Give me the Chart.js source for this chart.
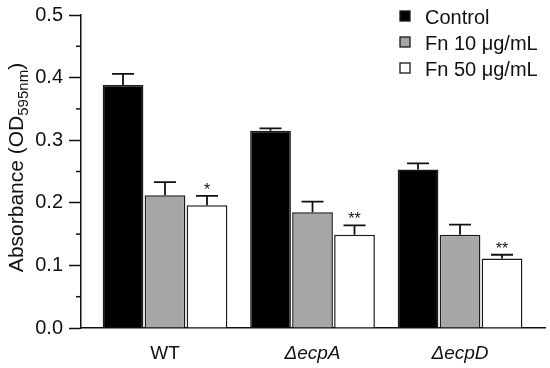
<!DOCTYPE html>
<html>
<head>
<meta charset="utf-8">
<script src="https://cdn.jsdelivr.net/npm/chart.js@4/dist/chart.umd.min.js"></script>
<style>
  html, body { margin: 0; padding: 0; background: #fff; }
</style>
</head>
<body>
<canvas id="chart" width="550" height="368"></canvas>
<script>
const groups = ["WT", "\u0394ecpA", "\u0394ecpD"];
const groupPos = [1, 2, 3];
const seriesNames = ["Control", "Fn 10 \u03bcg/mL", "Fn 50 \u03bcg/mL"];
const control = [0.388, 0.315, 0.253];
const fn10 = [0.212, 0.185, 0.149];
const fn50 = [0.196, 0.149, 0.111];
const controlErr = [0.018, 0.004, 0.010];
const fn10Err = [0.021, 0.017, 0.016];
const fn50Err = [0.015, 0.015, 0.006];
const fn50Stars = ["*", "**", "**"];
const yMinorTicks = [0.05, 0.15, 0.25, 0.35, 0.45];

const FONT = "'Liberation Sans', Arial, sans-serif";
const INK = "#111";

function makeSet(label, values, errs, fill, stars) {
  return {
    label,
    data: values.map((v, i) => ({ x: groupPos[i], y: v })),
    errors: errs,
    stars: stars || [],
    backgroundColor: fill,
    borderColor: "#1a1a1a",
    borderWidth: 1.5,
    categoryPercentage: 0.854,
    barPercentage: 0.97
  };
}

// error bars (upper only) + significance stars
const errorBars = {
  id: "errorBars",
  afterDatasetsDraw(chart) {
    const { ctx, scales: { y } } = chart;
    ctx.save();
    ctx.strokeStyle = INK;
    ctx.lineWidth = 1.8;
    chart.data.datasets.forEach((ds, di) => {
      chart.getDatasetMeta(di).data.forEach((bar, i) => {
        const top = y.getPixelForValue(ds.data[i].y + ds.errors[i]);
        ctx.beginPath();
        ctx.moveTo(bar.x, bar.y);
        ctx.lineTo(bar.x, top);
        ctx.moveTo(bar.x - 11, top);
        ctx.lineTo(bar.x + 11, top);
        ctx.stroke();
        if (ds.stars[i]) {
          ctx.fillStyle = INK;
          ctx.font = "16px " + FONT;
          ctx.textAlign = "center";
          ctx.textBaseline = "alphabetic";
          ctx.fillText(ds.stars[i], bar.x, top - 1);
        }
      });
    });
    ctx.restore();
  }
};

// minor ticks, y title with subscript, legend
const extras = {
  id: "extras",
  afterDraw(chart) {
    const { ctx, chartArea, scales: { y } } = chart;
    ctx.save();
    ctx.strokeStyle = INK;
    ctx.lineWidth = 1.5;
    yMinorTicks.forEach(v => {
      const py = y.getPixelForValue(v);
      ctx.beginPath();
      ctx.moveTo(chartArea.left - 5, py);
      ctx.lineTo(chartArea.left, py);
      ctx.stroke();
    });

    // y title
    ctx.fillStyle = INK;
    const main = "Absorbance (OD", sub = "595nm", close = ")";
    ctx.font = "21px " + FONT;
    const wMain = ctx.measureText(main).width;
    const wClose = ctx.measureText(close).width;
    ctx.font = "15px " + FONT;
    const wSub = ctx.measureText(sub).width;
    const total = wMain + wSub + wClose;
    const cy = (chartArea.top + chartArea.bottom) / 2 - 4;
    ctx.translate(23, cy);
    ctx.rotate(-Math.PI / 2);
    ctx.textAlign = "left";
    ctx.textBaseline = "alphabetic";
    let x = -total / 2;
    ctx.font = "21px " + FONT;
    ctx.fillText(main, x, 0);
    x += wMain;
    ctx.font = "15px " + FONT;
    ctx.fillText(sub, x, 5);
    x += wSub;
    ctx.font = "21px " + FONT;
    ctx.fillText(close, x, 0);
    ctx.setTransform(1, 0, 0, 1, 0, 0);

    // legend
    const lx = chartArea.right - 145;
    chart.data.datasets.forEach((ds, i) => {
      const ry = 16 + i * 26;
      ctx.fillStyle = ds.backgroundColor;
      ctx.fillRect(lx, ry - 5, 10, 10);
      ctx.strokeStyle = "#1a1a1a";
      ctx.lineWidth = 1.3;
      ctx.strokeRect(lx, ry - 5, 10, 10);
      ctx.fillStyle = INK;
      ctx.font = "20px " + FONT;
      ctx.textAlign = "left";
      ctx.textBaseline = "middle";
      ctx.fillText(ds.label, lx + 25, ry + 2);
    });
    ctx.restore();
  }
};

new Chart(document.getElementById("chart"), {
  type: "bar",
  data: {
    datasets: [
      makeSet(seriesNames[0], control, controlErr, "#000000"),
      makeSet(seriesNames[1], fn10, fn10Err, "#a6a6a6"),
      makeSet(seriesNames[2], fn50, fn50Err, "#ffffff", fn50Stars)
    ]
  },
  options: {
    responsive: false,
    animation: false,
    layout: { padding: { top: 15, right: 5, bottom: 0, left: 0 } },
    plugins: { legend: { display: false }, tooltip: { enabled: false } },
    scales: {
      x: {
        type: "linear",
        min: 0.4305,
        max: 3.576,
        offset: false,
        grid: { display: false, offset: false },
        border: { display: true, color: INK, width: 1.5 },
        afterBuildTicks: axis => { axis.ticks = groupPos.map(v => ({ value: v })); },
        afterFit: s => { s.height = 40; s.paddingLeft = 0; s.paddingRight = 0; },
        ticks: {
          autoSkip: false,
          maxRotation: 0,
          padding: 6,
          color: INK,
          font: c => ({ family: FONT, size: 19, style: c.index === 0 ? "normal" : "italic" }),
          callback: (v, i) => groups[i]
        }
      },
      y: {
        min: 0,
        max: 0.5,
        grid: { drawOnChartArea: false, drawTicks: true, tickLength: 12, tickColor: INK, tickWidth: 1.5 },
        border: { display: true, color: INK, width: 1.5 },
        afterFit: s => { s.width = 81; s.paddingTop = 0; s.paddingBottom = 0; },
        ticks: {
          stepSize: 0.1,
          padding: 6,
          color: INK,
          font: { family: FONT, size: 20 },
          callback: v => v.toFixed(1)
        }
      }
    }
  },
  plugins: [errorBars, extras]
});
</script>
</body>
</html>
